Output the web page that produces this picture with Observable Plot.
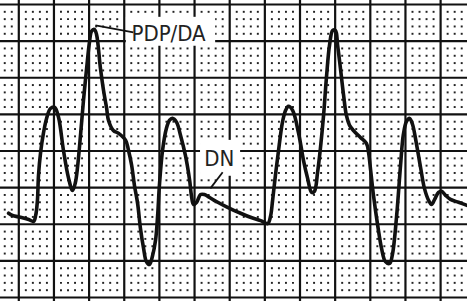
<!DOCTYPE html>
<html>
<head>
<meta charset="utf-8">
<script src="https://cdn.jsdelivr.net/npm/d3@7"></script>
<script src="https://cdn.jsdelivr.net/npm/@observablehq/plot@0.6"></script>
<style>
  html, body { margin: 0; padding: 0; background: #fff; }
  #chart svg { display: block; }
</style>
</head>
<body>
<div id="chart"></div>
<script>
// Pulse trace: time and amplitude in major-grid units
const traceT = [-0.29,-0.18,0.05,0.28,0.42,0.48,0.53,0.56,0.62,0.70,0.79,0.90,1.02,1.13,1.27,1.41,1.53,1.61,1.67,1.76,1.84,1.93,2.01,2.07,2.15,2.21,2.32,2.41,2.50,2.55,2.69,2.84,3.04,3.12,3.21,3.29,3.38,3.46,3.55,3.63,3.72,3.80,3.89,3.95,4.00,4.09,4.20,4.29,4.37,4.49,4.60,4.74,4.86,4.91,4.97,5.06,5.17,5.28,5.43,5.62,5.94,6.31,6.59,6.88,7.08,7.16,7.22,7.30,7.39,7.50,7.59,7.67,7.79,7.96,8.10,8.21,8.33,8.41,8.50,8.58,8.67,8.75,8.84,8.93,9.01,9.07,9.15,9.24,9.32,9.41,9.52,9.72,9.89,9.95,10.01,10.09,10.21,10.32,10.43,10.55,10.63,10.75,10.86,10.94,11.03,11.12,11.20,11.31,11.43,11.54,11.66,11.74,11.83,11.94,12.03,12.14,12.28,12.51,12.77];
const traceV = [2.30,2.24,2.19,2.13,2.08,2.24,2.65,3.33,3.96,4.48,4.89,5.16,5.19,4.92,4.02,3.28,2.92,3.14,3.55,4.48,5.38,6.26,6.97,7.27,7.32,7.19,6.28,5.66,5.16,4.84,4.56,4.48,4.29,4.02,3.61,3.06,2.57,1.89,1.34,0.98,0.90,1.12,1.56,2.24,3.06,4.02,4.62,4.84,4.89,4.78,4.43,3.88,3.20,2.79,2.54,2.60,2.81,2.81,2.73,2.62,2.46,2.30,2.19,2.10,2.02,2.21,2.65,3.33,4.02,4.78,5.11,5.22,5.11,4.48,3.74,3.28,2.87,2.90,3.42,4.07,4.97,5.98,6.89,7.29,7.29,6.89,6.26,5.52,4.97,4.70,4.56,4.37,4.21,3.96,3.47,2.79,1.97,1.34,0.98,0.93,1.18,2.24,3.61,4.45,4.81,4.89,4.73,4.21,3.55,2.98,2.65,2.54,2.68,2.87,2.90,2.79,2.68,2.60,2.51];

// Annotations
const labelText = ["PDP/DA", "DN"];
const labelX = [4.26, 5.70];
const labelY = [7.19, 3.78];
const boxX1 = [3.06, 5.17], boxX2 = [5.60, 6.31];
const boxY1 = [6.86, 3.31], boxY2 = [7.65, 4.29];
const leadX1 = [3.26, 5.80], leadY1 = [7.24, 3.42];
const leadX2 = [2.18, 5.45], leadY2 = [7.43, 2.98];

const trace = traceT.map((t, i) => ({t, v: traceV[i]}));
const labels = labelText.map((s, i) => ({
  s, x: labelX[i], y: labelY[i],
  bx1: boxX1[i], bx2: boxX2[i], by1: boxY1[i], by2: boxY2[i],
  lx1: leadX1[i], ly1: leadY1[i], lx2: leadX2[i], ly2: leadY2[i]
}));

// Chart paper grid
const majorX = d3.range(0, 13);
const majorY = d3.range(0, 9);
const minorDots = [];
for (let i = -2; i <= 64; i++) {
  if (i % 5 === 0) continue;
  for (let j = 1; j < 40; j++) {
    if (j % 5 === 0) continue;
    minorDots.push({x: i / 5, y: j / 5});
  }
}

const chart = Plot.plot({
  width: 467,
  height: 301,
  margin: 0,
  x: {domain: [-0.5206, 12.765], axis: null},
  y: {domain: [-0.109, 8.109], axis: null},
  style: {background: "#fff"},
  marks: [
    Plot.dot(minorDots, {x: "x", y: "y", r: 1.1, symbol: "square", fill: "#222", stroke: "none"}),
    Plot.ruleX(majorX, {stroke: "#111", strokeWidth: 2.2}),
    Plot.ruleY(majorY, {stroke: "#111", strokeWidth: 2.2}),
    Plot.rect(labels, {x1: "bx1", x2: "bx2", y1: "by1", y2: "by2", fill: "#fff"}),
    Plot.line(trace, {x: "t", y: "v", stroke: "#111", strokeWidth: 3.6, curve: "catmull-rom", strokeLinejoin: "round", strokeLinecap: "round"}),
    Plot.link(labels, {x1: "lx1", y1: "ly1", x2: "lx2", y2: "ly2", stroke: "#111", strokeWidth: 1.8}),
    Plot.text(labels, {x: "x", y: "y", text: "s", fontSize: 22, fill: "#222",
      fontFamily: "'Liberation Sans Narrow', 'DejaVu Sans Condensed', 'Liberation Sans', sans-serif"})
  ]
});
document.getElementById("chart").appendChild(chart);
</script>
</body>
</html>
